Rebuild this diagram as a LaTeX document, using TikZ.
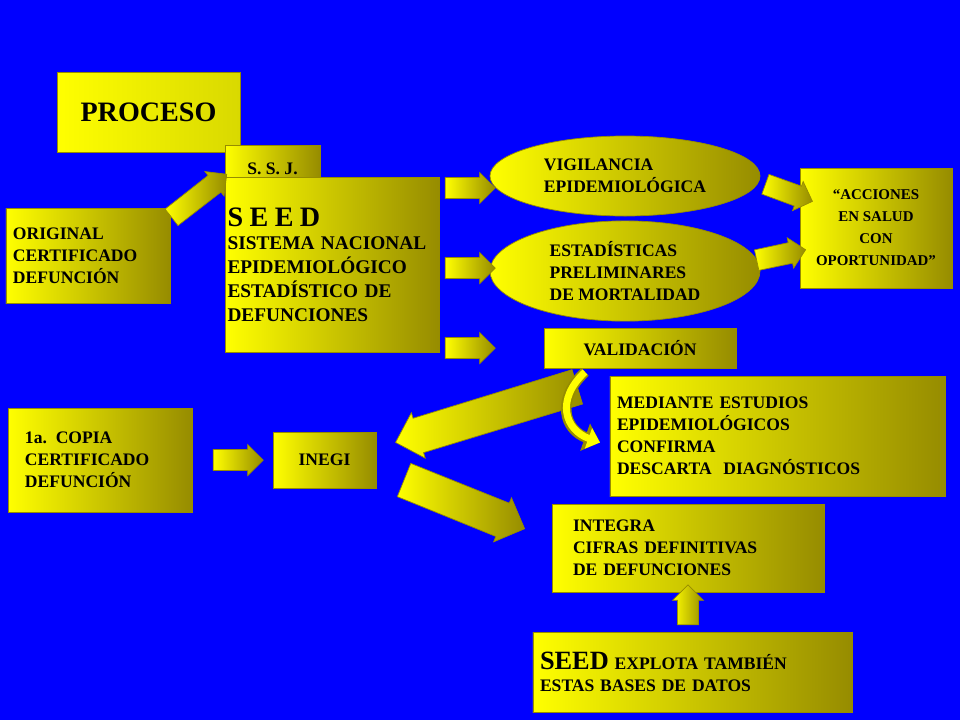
\documentclass[tikz,border=0pt]{standalone}
\usepackage{fontspec}
\setmainfont{Liberation Serif}
\usetikzlibrary{shapes.geometric,shapes.arrows,arrows.meta}
\definecolor{slideblue}{RGB}{0,0,255}
\definecolor{gold}{RGB}{255,255,0}
\definecolor{darkgold}{RGB}{150,140,0}
\begin{document}
\begin{tikzpicture}[
  box/.style={rectangle,draw=darkgold,left color=gold,right color=darkgold,
    font=\bfseries\fontsize{10}{12.5}\selectfont,align=left,inner sep=4pt},
  oval/.style={ellipse,draw=darkgold,left color=gold,right color=darkgold,
    font=\bfseries\fontsize{10}{12.5}\selectfont,align=left},
  barrow/.style={single arrow,draw=darkgold,left color=gold,right color=darkgold,
    minimum width=0.62cm,minimum height=1cm,single arrow head extend=0.08cm,
    inner xsep=0pt,inner ysep=0.16cm}]

  \fill[slideblue] (0,0) rectangle (19.2,-14.4);
  \useasboundingbox (0,0) rectangle (19.2,-14.4);

  % boxes
  \node[box,left color=gold,right color=gold!85!black,minimum width=3.66cm,minimum height=1.6cm,
    font=\bfseries\fontsize{16}{18}\selectfont] (proceso) at (2.97,-2.24) {PROCESO};
  \node[box,minimum width=1.9cm,minimum height=0.94cm] (ssj) at (5.45,-3.37) {S. S. J.};
  \node[box,text width=4.2cm,minimum height=3.5cm,inner sep=1pt,
    font=\bfseries\fontsize{11}{13.5}\selectfont] (seed) at (6.65,-5.29)
    {{\fontsize{16}{18}\selectfont S E E D}\\SISTEMA NACIONAL\\EPIDEMIOLÓGICO\\ESTADÍSTICO DE\\DEFUNCIONES};
  \node[box,text width=3cm,minimum height=1.9cm] (original) at (1.76,-5.11)
    {ORIGINAL\\CERTIFICADO\\DEFUNCIÓN};
  \node[oval,minimum width=5.4cm,minimum height=1.6cm] (vigilancia) at (12.5,-3.52)
    {VIGILANCIA\\EPIDEMIOLÓGICA};
  \node[oval,minimum width=5.4cm,minimum height=1.8cm] (estadisticas) at (12.5,-5.42)
    {ESTADÍSTICAS\\PRELIMINARES\\DE MORTALIDAD};
  \node[box,minimum width=3.04cm,minimum height=2.4cm,align=center,
    font=\bfseries\fontsize{8.5}{12.5}\selectfont] (acciones) at (17.52,-4.56)
    {``ACCIONES\\EN SALUD\\CON\\OPORTUNIDAD''};
  \node[box,minimum width=3.84cm,minimum height=0.8cm] (validacion) at (12.8,-6.96) {VALIDACIÓN};
  \node[box,text width=6.42cm,minimum height=2.4cm] (mediante) at (15.55,-8.72)
    {MEDIANTE ESTUDIOS\\EPIDEMIOLÓGICOS\\CONFIRMA\\DESCARTA\ \ DIAGNÓSTICOS};
  \node[box,text width=3.0cm,minimum height=2.08cm,inner xsep=0.34cm] (copia) at (2.0,-9.2)
    {1a. COPIA\\CERTIFICADO\\DEFUNCIÓN};
  \node[box,minimum width=2.06cm,minimum height=1.12cm] (inegi) at (6.49,-9.2) {INEGI};
  \node[box,text width=4.6cm,minimum height=1.76cm,inner xsep=0.42cm] (integra) at (13.76,-10.96)
    {INTEGRA\\CIFRAS DEFINITIVAS\\DE DEFUNCIONES};
  \node[box,text width=6.1cm,minimum height=1.6cm] (seedbases) at (13.85,-13.44)
    {{\fontsize{15}{17}\selectfont SEED} EXPLOTA TAMBIÉN\\ESTAS BASES DE DATOS};

  % block arrows
  \node[barrow,minimum height=1.4cm,rotate=38] (a1) at (3.9,-3.98) {};
  \node[barrow] (a2) at (9.3,-3.76) {};
  \node[barrow] (a3) at (9.3,-5.36) {};
  \node[barrow] (a4) at (9.3,-6.96) {};
  \node[barrow,rotate=-20] (a5) at (15.68,-3.82) {};
  \node[barrow,rotate=12] (a6) at (15.52,-5.12) {};
  \node[barrow] (a7) at (4.66,-9.2) {};
  \node[barrow,minimum height=3.8cm,minimum width=0.95cm,inner ysep=0.24cm,rotate=197] (a8) at (9.9,-8.24) {};
  \node[barrow,minimum height=2.6cm,minimum width=0.95cm,inner ysep=0.24cm,rotate=-22] (a9) at (9.12,-10.02) {};
  \node[barrow,minimum height=0.8cm,rotate=90] (a10) at (13.76,-12.2) {};

  \coordinate (c1) at (11.7,-7.44);
  \coordinate (c2) at (12.0,-8.85);
  \draw[darkgold,line width=6pt,-{Triangle[length=9pt,width=16pt]}]
    (c1) .. controls (11.1,-8.0) and (11.3,-8.6) .. (c2);
  \draw[gold,line width=4pt,-{Triangle[length=7pt,width=12pt]}]
    (c1) .. controls (11.1,-8.0) and (11.3,-8.6) .. (c2);
\end{tikzpicture}
\end{document}
